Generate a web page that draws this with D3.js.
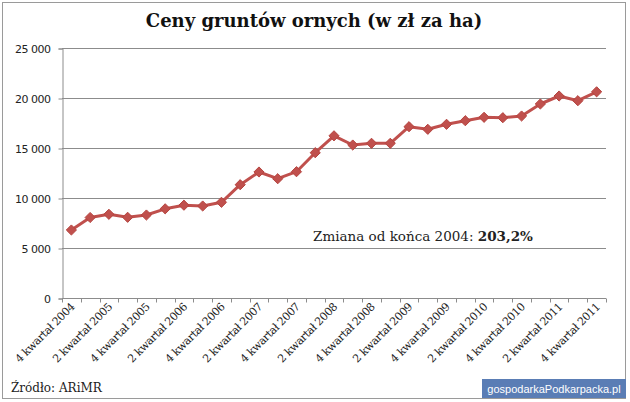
<!DOCTYPE html>
<html>
<head>
<meta charset="utf-8">
<script src="https://cdn.jsdelivr.net/npm/d3@7"></script>
<style>
    body { margin: 0; background: #fff; }
    svg text { font-family: "DejaVu Serif", "Liberation Serif", serif; }
</style>
</head>
<body>
<svg id="chart" width="630" height="402"></svg>
<script>
// quarters from Q4 2004 to Q4 2011
const quarters = ["4 kwartał 2004",
    "1 kwartał 2005", "2 kwartał 2005", "3 kwartał 2005", "4 kwartał 2005",
    "1 kwartał 2006", "2 kwartał 2006", "3 kwartał 2006", "4 kwartał 2006",
    "1 kwartał 2007", "2 kwartał 2007", "3 kwartał 2007", "4 kwartał 2007",
    "1 kwartał 2008", "2 kwartał 2008", "3 kwartał 2008", "4 kwartał 2008",
    "1 kwartał 2009", "2 kwartał 2009", "3 kwartał 2009", "4 kwartał 2009",
    "1 kwartał 2010", "2 kwartał 2010", "3 kwartał 2010", "4 kwartał 2010",
    "1 kwartał 2011", "2 kwartał 2011", "3 kwartał 2011", "4 kwartał 2011"]
const prices = [6800,
    8050, 8370, 8070, 8300,
    8920, 9280, 9200, 9570,
    11330, 12600, 11930, 12630,
    14530, 16220, 15300, 15470,
    15470, 17130, 16870, 17370,
    17730, 18070, 18030, 18200,
    19400, 20200, 19730, 20620]
const yTicks = [0, 5000, 10000, 15000, 20000, 25000]

const svg = d3.select("#chart")
const plotLeft = 62, plotRight = 606, plotTop = 48, plotBottom = 298

// frame
svg.append("rect")
    .attr("x", 2.5).attr("y", 2.5)
    .attr("width", 623).attr("height", 396)
    .attr("fill", "#fff")
    .attr("stroke", "#9a9a9a")

// title
svg.append("text")
    .attr("x", 314).attr("y", 27)
    .attr("text-anchor", "middle")
    .attr("font-size", 18)
    .attr("font-weight", "bold")
    .attr("fill", "#111")
    .text("Ceny gruntów ornych (w zł za ha)")

const x = d3.scaleBand().domain(quarters).range([plotLeft, plotRight])
const y = d3.scaleLinear().domain([0, 25000]).range([plotBottom, plotTop])

// gridlines
svg.append("g")
    .selectAll("line")
    .data(yTicks.filter(d => d > 0))
    .enter()
    .append("line")
    .attr("x1", plotLeft).attr("x2", plotRight)
    .attr("y1", d => y(d) + 0.5).attr("y2", d => y(d) + 0.5)
    .attr("stroke", "#8c8c8c")

// y axis
const yAxis = svg.append("g")
    .attr("transform", `translate(${plotLeft + 0.5},0.5)`)
    .call(d3.axisLeft(y).tickValues(yTicks).tickSize(4).tickPadding(8)
        .tickFormat(d => d3.format(",")(d).replace(",", " ")))
yAxis.select(".domain").attr("stroke", "#8c8c8c")
yAxis.selectAll(".tick line").attr("stroke", "#8c8c8c")
yAxis.selectAll("text")
    .attr("font-size", 11)
    .attr("fill", "#222")
    .style("font-family", "DejaVu Sans, sans-serif")
    .style("letter-spacing", "-0.5px")

// x axis (ticks at category boundaries)
const xAxisG = svg.append("g").attr("transform", `translate(0,${plotBottom + 0.5})`)
xAxisG.append("line")
    .attr("x1", plotLeft).attr("x2", plotRight)
    .attr("stroke", "#8c8c8c")
xAxisG.selectAll("line.tk")
    .data(quarters.concat(["end"]))
    .enter()
    .append("line")
    .attr("class", "tk")
    .attr("x1", (d, i) => Math.round(plotLeft + i * x.step()) + 0.5)
    .attr("x2", (d, i) => Math.round(plotLeft + i * x.step()) + 0.5)
    .attr("y1", 0).attr("y2", 4)
    .attr("stroke", "#8c8c8c")
xAxisG.selectAll("text")
    .data(quarters.filter((d, i) => i % 2 === 0))
    .enter()
    .append("text")
    .attr("transform", d => `translate(${x(d) + x.bandwidth() / 2 + 4},9) rotate(-45)`)
    .attr("text-anchor", "end")
    .attr("font-size", 11)
    .attr("fill", "#222")
    .style("letter-spacing", "-0.4px")
    .text(d => d)

// line
const line = d3.line()
    .x((d, i) => x(quarters[i]) + x.bandwidth() / 2)
    .y(d => y(d))
svg.append("path")
    .datum(prices)
    .attr("d", line)
    .attr("fill", "none")
    .attr("stroke", "#c0504d")
    .attr("stroke-width", 3)
    .attr("stroke-linejoin", "round")

svg.append("g")
    .selectAll("path")
    .data(prices)
    .enter()
    .append("path")
    .attr("d", d3.symbol().type(d3.symbolDiamond2).size(66))
    .attr("transform", (d, i) => `translate(${x(quarters[i]) + x.bandwidth() / 2},${y(d)})`)
    .attr("fill", "#c0504d")
    .attr("stroke", "#b5443f")
    .attr("stroke-width", 1)

// annotation
const note = svg.append("text")
    .attr("x", 313).attr("y", 241)
    .attr("font-size", 13.5)
    .attr("fill", "#222")
note.append("tspan").text("Zmiana od końca 2004: ")
note.append("tspan").attr("font-weight", "bold").text("203,2%")

// source
svg.append("text")
    .attr("x", 11).attr("y", 392)
    .attr("font-size", 12)
    .attr("fill", "#222")
    .text("Źródło: ARiMR")

// watermark
svg.append("rect")
    .attr("x", 482).attr("y", 379)
    .attr("width", 144).attr("height", 19)
    .attr("fill", "#5a7db5")
svg.append("text")
    .attr("x", 554).attr("y", 392.5)
    .attr("text-anchor", "middle")
    .attr("font-size", 11)
    .attr("fill", "#fff")
    .style("font-family", "Liberation Sans, sans-serif")
    .text("gospodarkaPodkarpacka.pl")
</script>
</body>
</html>
